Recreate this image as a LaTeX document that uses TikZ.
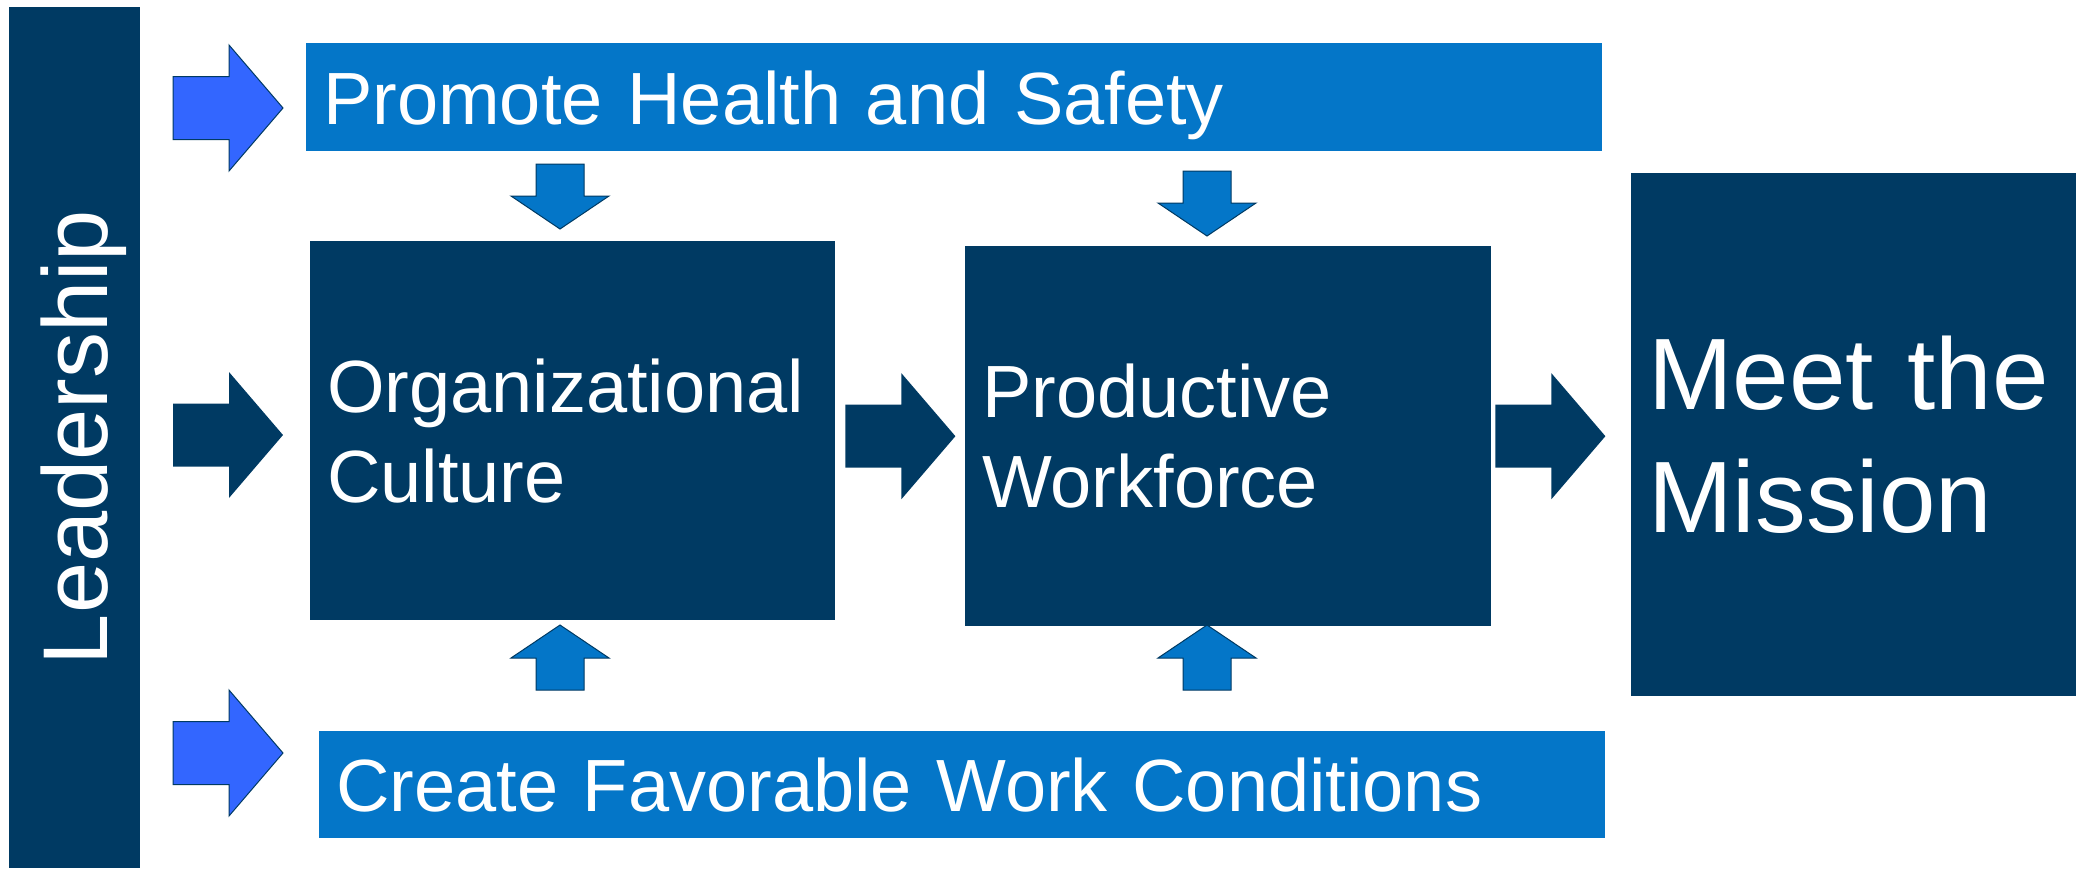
\documentclass[tikz,border=0pt]{standalone}
\usepackage{fontspec}
\setmainfont{Liberation Sans}
\usetikzlibrary{calc}
\definecolor{navy}{RGB}{0,58,99}
\definecolor{midblue}{RGB}{4,118,200}
\definecolor{brightblue}{RGB}{51,102,255}

\begin{document}
\begin{tikzpicture}[x=1pt, y=-1pt,
  box/.style={fill=#1, text=white, anchor=north west, inner xsep=17pt, inner ysep=0pt, align=left},
  bar/.style={box=midblue, font=\fontsize{74}{89}\selectfont, text depth=0pt, minimum height=108pt},
  block/.style={box=navy, font=\fontsize{74}{90}\selectfont},
  side/.style={fill=brightblue, draw=navy, line width=1pt},
  flow/.style={fill=navy},
  feed/.style={fill=midblue, draw=navy, line width=1pt},
  rarrow/.pic={\path[pic actions] (0,-31.5) -- (56,-31.5) -- (56,-63) -- (110,0) -- (56,63) -- (56,31.5) -- (0,31.5) -- cycle;},
  darrow/.pic={\path[pic actions] (-24,0) -- (24,0) -- (24,32) -- (49,32) -- (0,65) -- (-49,32) -- (-24,32) -- cycle;},
  uarrow/.pic={\path[pic actions] (-24,0) -- (24,0) -- (24,-32) -- (49,-32) -- (0,-65) -- (-49,-32) -- (-24,-32) -- cycle;}]
  \useasboundingbox (0,0) rectangle (2076,868);

  \node[fill=navy, text=white, rotate=90, minimum width=861pt, minimum height=131pt, inner sep=0pt,
        text depth=0pt, font=\fontsize{92}{110}\selectfont] (lead) at (74.5,437.5) {Leadership};
  \node[bar, text width=1262pt] (promote) at (306,43) {Promote Health and Safety};
  \node[bar, text width=1252pt, minimum height=107pt] (create) at (319,731) {Create Favorable Work Conditions};
  \node[block, text width=491pt, minimum height=379pt] (org) at (310,241) {Organizational\\Culture};
  \node[block, text width=492pt, minimum height=380pt] (prod) at (965,246) {Productive\\Workforce};
  \node[box=navy, text width=428pt, minimum height=523pt, font=\fontsize{101.5}{123}\selectfont] (mission) at (1631,173) {Meet the\\Mission};

  \pic[side] at (173,108) {rarrow};
  \pic[flow] at (173,435) {rarrow};
  \pic[side] at (173,753) {rarrow};
  \pic[flow] at ($(org.east |- prod.east)+(10,0)$) {rarrow};
  \pic[flow] at ($(prod.east)+(4,0)$) {rarrow};

  \pic[feed] at (560,164) {darrow};
  \pic[feed] at (1207,171) {darrow};
  \pic[feed] at (560,690) {uarrow};
  \pic[feed] at (1207,690) {uarrow};
\end{tikzpicture}
\end{document}
